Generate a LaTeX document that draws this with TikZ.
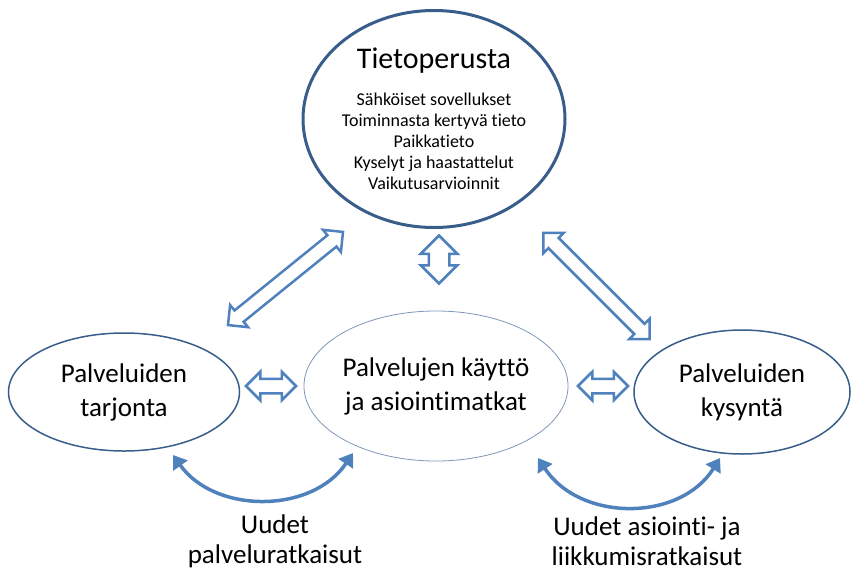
\documentclass[tikz,border=0pt]{standalone}
\usepackage{fontspec}
\setmainfont{Carlito}[Ligatures=NoCommon]
\usepackage{tikz}
\usetikzlibrary{shapes.geometric,shapes.arrows}
\usetikzlibrary{arrows.meta}
\definecolor{rimblue}{HTML}{385D8A}
\definecolor{arrowblue}{HTML}{4F81BD}
\definecolor{paleblue}{HTML}{7F96B8}

\begin{document}
\begin{tikzpicture}[x=1pt,y=-1pt,
	blob/.style={ellipse,draw=rimblue,line width=1.5pt,inner sep=0pt,align=center,font=\fontsize{27}{34}\selectfont},
	twoway/.style={double arrow,draw=arrowblue,fill=white,line width=2.5pt,inner ysep=6pt,inner xsep=0pt,double arrow head extend=7pt},
	swing/.style={draw=arrowblue,line width=3.5pt,{Triangle[length=13pt,width=17pt]}-{Triangle[length=13pt,width=17pt]}},
	caption/.style={align=center,font=\fontsize{27}{30}\selectfont}]
		
		\useasboundingbox (0,0) rectangle (851,574);
		
		% knowledge base
		\node[blob,line width=3pt,minimum width=262pt,minimum height=217pt,font=\fontsize{18}{21}\selectfont] (base) at (434,119)
		{{\fontsize{30}{36}\selectfont Tietoperusta}\\[16pt]
			Sähköiset sovellukset\\ Toiminnasta kertyvä tieto\\ Paikkatieto\\ Kyselyt ja haastattelut\\ Vaikutusarvioinnit};
		
		% the three service ellipses
		\node[blob,minimum width=231pt,minimum height=118pt] (supply) at (124,392) {Palveluiden\\tarjonta};
		\node[blob,draw=paleblue,line width=0.8pt,minimum width=260pt,minimum height=150pt] (use) at (436,386) {Palvelujen käyttö\\ja asiointimatkat};
		\node[blob,minimum width=216pt,minimum height=124pt] (demand) at (742,392) {Palveluiden\\kysyntä};
		
		% hollow two-way arrows
		\foreach \nm/\pos/\len/\ang in {upleft/{(285.5,278.5)}/148/39, upright/{(596.5,286)}/150/-45, midleft/{(271,386)}/50/0, midright/{(603,386)}/50/0}
		{
			\node[twoway,minimum height=\len pt,rotate=\ang] (\nm) at \pos {};
		}
		\node[twoway,inner ysep=9pt,double arrow head extend=8pt,minimum height=48pt,rotate=90] (upmid) at (439,259.5) {};
		
		% curved arrows and their captions
		\coordinate (sa) at (173,455);
		\coordinate (sb) at (353,453);
		\coordinate (da) at (538,458);
		\coordinate (db) at (720,458);
		\draw[swing] (sa) .. controls (215,514) and (312,514) .. (sb);
		\draw[swing] (da) .. controls (580,522) and (680,522) .. (db);
		
		\node[caption] (newsvc) at (275,541) {Uudet\\palveluratkaisut};
		\node[caption] (newmob) at (647,541) {Uudet asiointi- ja\\liikkumisratkaisut};
		
	\end{tikzpicture}
\end{document}
